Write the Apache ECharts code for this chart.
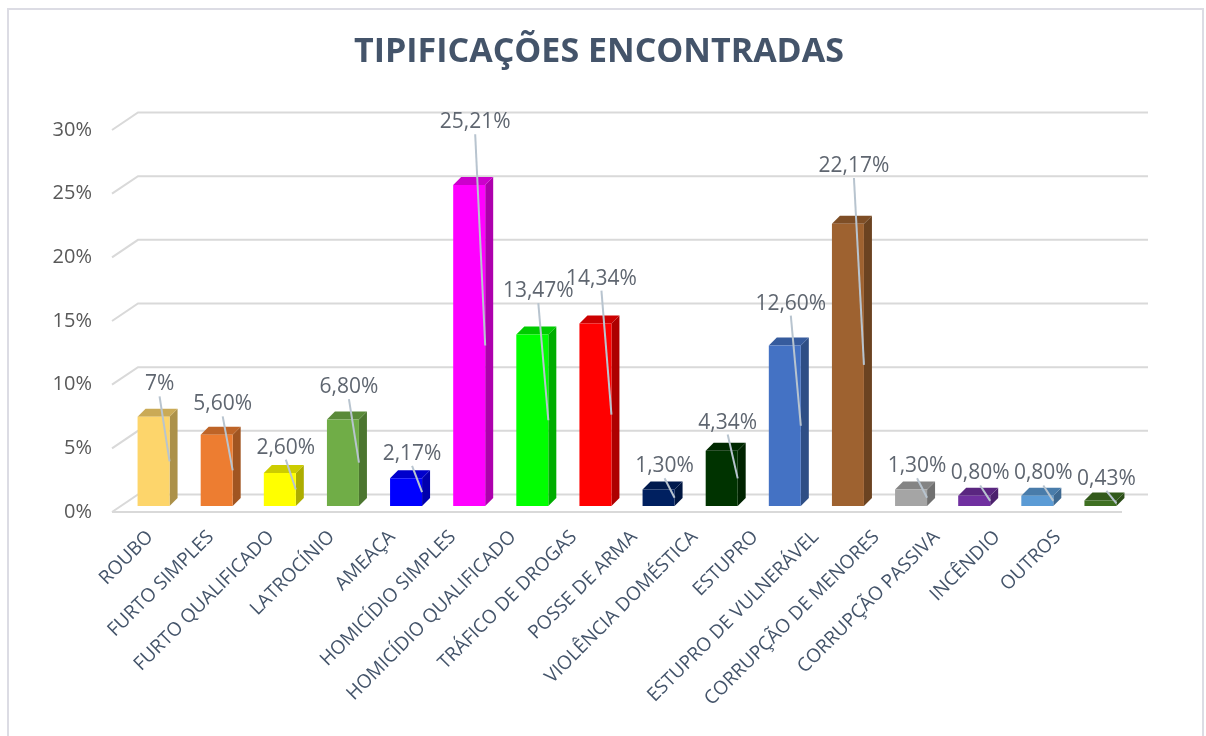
<!DOCTYPE html>
<html>
<head>
<meta charset="utf-8">
<script src="https://cdn.jsdelivr.net/npm/echarts@6/dist/echarts.min.js"></script>
<style>
html,body{margin:0;padding:0;background:#fff;}
#chart{width:1206px;height:736px;}
</style>
</head>
<body>
<div id="chart"></div>
<script>
const titleText = 'TIPIFICAÇÕES ENCONTRADAS';
const categories = ['ROUBO','FURTO SIMPLES','FURTO QUALIFICADO','LATROCÍNIO','AMEAÇA','HOMICÍDIO SIMPLES','HOMICÍDIO QUALIFICADO','TRÁFICO DE DROGAS','POSSE DE ARMA','VIOLÊNCIA DOMÉSTICA','ESTUPRO','ESTUPRO DE VULNERÁVEL','CORRUPÇÃO DE MENORES','CORRUPÇÃO PASSIVA','INCÊNDIO','OUTROS'];
const values = [7, 5.60, 2.60, 6.80, 2.17, 25.21, 13.47, 14.34, 1.30, 4.34, 12.60, 22.17, 1.30, 0.80, 0.80, 0.43];
const barColors = ['#fdd56b','#ed7d31','#ffff00','#70ad47','#0000ff','#ff00ff','#00ff00','#ff0000','#002060','#003300','#4472c4','#9e6230','#a5a5a5','#7030a0','#5b9bd5','#3f7022'];
const yTicks = [0, 5, 10, 15, 20, 25, 30];

function shade(hex, f) {
  const n = parseInt(hex.slice(1), 16);
  const r = Math.round(((n >> 16) & 255) * f);
  const g = Math.round(((n >> 8) & 255) * f);
  const b = Math.round((n & 255) * f);
  return 'rgb(' + r + ',' + g + ',' + b + ')';
}
function fmt(v) {
  return (Number.isInteger(v) ? String(v) : v.toFixed(2).replace('.', ',')) + '%';
}

const DX = 26, DY = -17.5;      // back-wall offset
const BX = 10, BY = -6;         // bar front plane offset
const SX = 8, SY = -8;          // bar depth
const HW = 16;                  // half bar width

const chart = echarts.init(document.getElementById('chart'));
chart.setOption({
  animation: false,
  backgroundColor: '#ffffff',
  title: {
    text: titleText,
    left: 594, top: 30, textAlign: 'center',
    textStyle: { fontFamily: 'Open Sans', fontWeight: 'bold', fontSize: 34, color: '#44546a' }
  },
  graphic: [{
    type: 'rect', silent: true,
    shape: { x: 8, y: 9, width: 1195, height: 740 },
    style: { fill: 'none', stroke: '#dcdce4', lineWidth: 2 }
  }],
  grid: [
    { left: 112, right: 84, top: 130, bottom: 224 },
    { left: 120, width: 968, top: 130, bottom: 224 }
  ],
  xAxis: [
    { type: 'category', gridIndex: 0, data: categories, axisLine: { show: false }, axisTick: { show: false }, axisLabel: { show: false } },
    { type: 'category', gridIndex: 1, data: categories, axisLine: { show: false }, axisTick: { show: false },
      axisLabel: { interval: 0, rotate: 45, margin: 22, fontFamily: 'Open Sans', fontSize: 19, color: '#44546a' } }
  ],
  yAxis: [
    { type: 'value', gridIndex: 0, min: 0, max: 30, interval: 5,
      axisLine: { show: false }, axisTick: { show: false }, splitLine: { show: false },
      axisLabel: { formatter: '{value}%', margin: 20, fontFamily: 'Open Sans', fontSize: 20, color: '#595959' } },
    { type: 'value', gridIndex: 1, min: 0, max: 30, show: false }
  ],
  series: [
    {
      type: 'custom', name: 'grid3d', xAxisIndex: 0, yAxisIndex: 0, silent: true, clip: false, z: 1,
      data: yTicks.map(t => [0, t]),
      renderItem: function (params, api) {
        const cs = params.coordSys;
        const y = api.coord([0, api.value(1)])[1];
        const l = cs.x, r = cs.x + cs.width;
        const st = { stroke: '#d9d9d9', lineWidth: 2, fill: 'none' };
        const ch = [{ type: 'polyline', shape: { points: [[l, y], [l + DX, y + DY], [r + DX, y + DY]] }, style: st }];
        if (api.value(1) === 0) ch.push({ type: 'line', shape: { x1: l, y1: y, x2: r, y2: y }, style: st });
        return { type: 'group', children: ch };
      }
    },
    {
      type: 'custom', name: 'bars', xAxisIndex: 0, yAxisIndex: 0, silent: true, clip: false, z: 2,
      data: values.map((v, i) => [i, v]),
      renderItem: function (params, api) {
        const i = api.value(0), v = api.value(1);
        const p0 = api.coord([i, 0]), p1 = api.coord([i, v]);
        const cx = p0[0] + BX;
        const x1 = cx - HW, x2 = cx + HW;
        const yb = p0[1] + BY, yt = p1[1] + BY;
        const c = barColors[i];
        return { type: 'group', children: [
          { type: 'polygon', shape: { points: [[x2, yb], [x2 + SX, yb + SY], [x2 + SX, yt + SY], [x2, yt]] }, style: { fill: shade(c, 0.68) } },
          { type: 'polygon', shape: { points: [[x1, yt], [x2, yt], [x2 + SX, yt + SY], [x1 + SX, yt + SY]] }, style: { fill: shade(c, 0.8) } },
          { type: 'rect', shape: { x: x1, y: yt, width: x2 - x1, height: yb - yt }, style: { fill: c } }
        ] };
      }
    },
    {
      type: 'custom', name: 'labels', xAxisIndex: 0, yAxisIndex: 0, silent: true, clip: false, z: 3,
      data: values.map((v, i) => [i, v]),
      renderItem: function (params, api) {
        const i = api.value(0), v = api.value(1);
        const p0 = api.coord([i, 0]), p1 = api.coord([i, v]);
        const cx = p0[0] + BX;
        const yb = p0[1] + BY, yt = p1[1] + BY;
        const ly = api.coord([i, v * 1.13])[1] + BY - 21;
        const lx = cx + 6;
        return { type: 'group', children: [
          { type: 'line', shape: { x1: lx, y1: ly + 12, x2: cx + HW, y2: (yt + yb) / 2 }, style: { stroke: '#b8c4cf', lineWidth: 2 } },
          { type: 'text', style: { text: fmt(v), x: lx, y: ly, align: 'center', verticalAlign: 'middle', textAlign: 'center', textVerticalAlign: 'middle',
            fill: '#5f6670', fontFamily: 'Open Sans', fontSize: 21 } }
        ] };
      }
    }
  ]
});
</script>
</body>
</html>
